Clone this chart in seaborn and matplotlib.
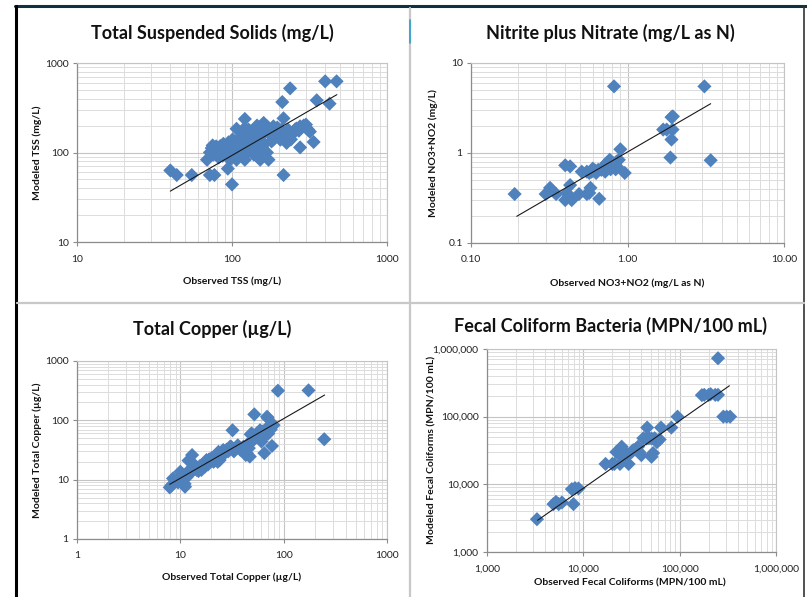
import matplotlib
matplotlib.use("Agg")
import matplotlib.pyplot as plt
import seaborn as sns
from matplotlib.ticker import FixedLocator, LogLocator, NullFormatter
from matplotlib.lines import Line2D

# --- Total Suspended Solids (mg/L) ---
tss_obs = [40, 44, 55, 72, 77, 100, 94, 215, 69, 107, 121, 121, 142, 160, 168, 185, 211, 215,
           237, 275, 301, 318, 336, 352, 275, 399, 473, 426, 225, 205, 180, 152, 172, 168, 145,
           128, 121, 107, 97, 113, 101, 137, 152, 145, 160, 93, 86, 79, 74, 72, 81, 101, 110,
           125, 116, 131, 249, 208, 194, 75, 78, 83, 88, 90, 95, 104, 112, 118, 123, 130, 135,
           140, 148, 155, 162, 175, 190, 200, 230, 260, 290, 310, 99, 106, 115, 138, 170, 82,
           87, 120, 128, 145, 185, 240, 255, 76, 84, 92, 98, 109, 117, 126, 133, 150, 158, 178,
           196, 220, 270, 300]
tss_mod = [63, 56, 56, 56, 56, 44, 66, 56, 83, 184, 237, 188, 188, 214, 196, 196, 366, 241,
           521, 196, 189, 171, 131, 383, 114, 624, 624, 351, 128, 139, 133, 83, 83, 100, 91,
           107, 83, 83, 83, 117, 140, 152, 139, 117, 165, 117, 103, 117, 112, 100, 95, 103, 140,
           140, 100, 117, 165, 180, 165, 120, 105, 110, 125, 100, 130, 120, 128, 110, 160, 125,
           105, 170, 150, 180, 125, 160, 150, 175, 180, 185, 200, 180, 95, 110, 150, 95, 190,
           88, 92, 95, 180, 200, 140, 140, 180, 95, 118, 108, 125, 130, 135, 118, 145, 160, 110,
           175, 190, 165, 175, 205]
tss_trend_x = [40, 475]
tss_trend_y = [37, 443]

# --- Nitrite plus Nitrate (mg/L as N) ---
no3_obs = [0.19, 0.30, 0.32, 0.35, 0.40, 0.43, 0.40, 0.42, 0.43, 0.44, 0.41, 0.49, 0.55, 0.58,
           0.66, 0.51, 0.59, 0.68, 0.75, 0.81, 0.88, 0.72, 0.77, 0.83, 0.65, 0.72, 0.90, 0.82,
           0.96, 1.78, 1.91, 1.94, 1.91, 1.88, 1.69, 3.1, 3.4, 0.55, 0.62, 0.70, 0.79, 0.85,
           0.86, 0.78, 0.74, 0.63, 0.57, 0.60, 0.84, 0.57, 1.95]
no3_mod = [0.35, 0.35, 0.41, 0.35, 0.73, 0.71, 0.30, 0.33, 0.44, 0.30, 0.36, 0.35, 0.35, 0.41,
           0.31, 0.62, 0.62, 0.65, 0.71, 0.77, 0.84, 0.74, 0.84, 0.74, 0.65, 0.62, 1.1, 5.5,
           0.60, 1.82, 2.5, 1.82, 1.41, 0.89, 1.82, 5.5, 0.83, 0.62, 0.64, 0.68, 0.72, 0.80,
           0.70, 0.66, 0.78, 0.60, 0.60, 0.67, 0.66, 0.36, 2.55]
no3_trend_x = [0.196, 3.4]
no3_trend_y = [0.198, 3.53]

# --- Total Copper (ug/L) ---
cu_obs = [7.9, 8.5, 10, 10.7, 11.1, 11.5, 12, 13, 12.8, 14.4, 16, 17.3, 17.9, 20, 22.4, 24,
          23.4, 26, 30.3, 32, 35, 40.8, 44, 45.6, 47, 49, 52, 55, 61, 65, 69, 74, 71, 77, 80,
          88, 174, 247, 59, 9.5, 10.5, 11, 12.5, 13.5, 15, 15.5, 18.5, 19, 21, 23, 25, 27, 28,
          29, 33, 36, 38, 42, 46, 48, 50, 57, 63, 66, 70, 72, 75, 8.2, 12, 13, 31, 43]
cu_mod = [7.4, 10.5, 13.6, 10, 7.6, 11, 21, 26, 20, 14.6, 14.6, 16.6, 21.4, 23, 24.5, 21.4,
          29.4, 31.6, 36, 68, 34, 36, 27.8, 40.8, 24.5, 60, 126, 60, 44, 28, 115, 73, 60, 37, 83,
          316, 320, 48, 68, 9, 12, 8.5, 15, 16, 14, 17, 18, 22, 20, 20, 26, 28, 32,
          30, 30, 38, 32, 30, 34, 58, 45, 62, 65, 55, 110, 80, 70, 8, 12, 14, 36, 26]
cu_trend_x = [7.9, 249]
cu_trend_y = [8.35, 267]

# --- Fecal Coliform Bacteria (MPN/100 mL) ---
fc_obs = [3300, 4900, 5550, 6000, 7900, 7600, 8900, 17000, 21000, 23000, 25000, 28000, 29500,
          32000, 37000, 40000, 45500, 46000, 51000, 51000, 53000, 60000, 64000, 82000, 95000,
          170000, 200000, 234000, 210000, 250000, 250000, 284000, 308000, 334000, 5200, 8200,
          22000, 24000, 26000, 30000, 35000, 38000, 42000, 48000, 55000, 58000, 62000, 180000,
          20000, 27000, 33000]
fc_mod = [3050, 5100, 5100, 5400, 5100, 8500, 8700, 20000, 20000, 29000, 36000, 27000, 20000,
          30500, 36000, 27000, 47500, 69000, 47500, 25500, 29000, 45000, 69000, 69000, 100000,
          208000, 210000, 210000, 215000, 210000, 730000, 100000, 100000, 100000, 5500, 8800,
          30000, 20000, 25000, 28000, 33000, 30000, 48000, 48000, 48000, 42000, 46000, 210000,
          20000, 30000, 32000]
fc_trend_x = [3350, 328000]
fc_trend_y = [2940, 286000]

sns.set_theme(style="white")
plt.rcParams["font.family"] = ["Lato", "DejaVu Sans"]

W, H = 807, 597
fig = plt.figure(figsize=(W / 100, H / 100), dpi=100)
fig.patch.set_facecolor("white")

BLUE = "#4F81BD"
AXIS_GRAY = "#8c8c8c"


def px_axes(left, top, right, bottom):
    return fig.add_axes([left / W, 1 - bottom / H, (right - left) / W, (bottom - top) / H])


def px_text(x, y, s, **kw):
    fig.text(x / W, 1 - y / H, s, ha="center", va="center", color="#111111", **kw)


def draw_panel(ax, obs, mod, trend_x, trend_y, decades_x, decades_y, xlabels, ylabels):
    ax.set_xscale("log")
    ax.set_yscale("log")
    ax.set_xlim(decades_x[0], decades_x[-1])
    ax.set_ylim(decades_y[0], decades_y[-1])

    ax.xaxis.set_major_locator(FixedLocator(decades_x))
    ax.yaxis.set_major_locator(FixedLocator(decades_y))
    ax.set_xticklabels(xlabels)
    ax.set_yticklabels(ylabels)
    ax.xaxis.set_minor_locator(LogLocator(base=10, subs=range(2, 10), numticks=20))
    ax.yaxis.set_minor_locator(LogLocator(base=10, subs=range(2, 10), numticks=20))
    ax.xaxis.set_minor_formatter(NullFormatter())
    ax.yaxis.set_minor_formatter(NullFormatter())

    ax.grid(True, which="major", color="#c4c4c4", lw=0.8)
    ax.grid(True, which="minor", color="#dcdcdc", lw=0.7)
    ax.set_axisbelow(True)

    ax.tick_params(which="major", direction="out", length=3, width=0.8, color=AXIS_GRAY,
                   labelsize=7.5, labelcolor="#222222", left=True, bottom=True)
    ax.tick_params(axis="x", which="major", pad=6)
    ax.tick_params(axis="y", which="major", pad=3)
    ax.tick_params(which="minor", length=0)

    for side in ["top", "right"]:
        ax.spines[side].set_color("#c4c4c4")
        ax.spines[side].set_linewidth(0.8)
    for side in ["left", "bottom"]:
        ax.spines[side].set_color(AXIS_GRAY)
        ax.spines[side].set_linewidth(0.9)

    sns.scatterplot(x=obs, y=mod, ax=ax, marker="D", s=52, color=BLUE,
                    edgecolor="none", linewidth=0, zorder=3)
    sns.lineplot(x=trend_x, y=trend_y, ax=ax, color="#1a1a1a", lw=0.8, zorder=4)
    ax.set_xlabel("")
    ax.set_ylabel("")


# Top-left: TSS
ax1 = px_axes(77, 63, 387, 242)
draw_panel(ax1, tss_obs, tss_mod, tss_trend_x, tss_trend_y,
           [10, 100, 1000], [10, 100, 1000],
           ["10", "100", "1000"], ["10", "100", "1000"])
px_text(212, 33, "Total Suspended Solids (mg/L)", fontsize=13, fontweight="bold")
px_text(232, 281, "Observed TSS (mg/L)", fontsize=7.5, fontweight="bold")
px_text(37, 153, "Modeled TSS (mg/L)", fontsize=7.5, fontweight="bold", rotation=90)

# Top-right: NO3+NO2
ax2 = px_axes(471, 63, 784, 243)
draw_panel(ax2, no3_obs, no3_mod, no3_trend_x, no3_trend_y,
           [0.1, 1, 10], [0.1, 1, 10],
           ["0.10", "1.00", "10.00"], ["0.1", "1", "10"])
px_text(610, 33, "Nitrite plus Nitrate (mg/L as N)", fontsize=13, fontweight="bold")
px_text(627, 283, "Observed NO3+NO2 (mg/L as N)", fontsize=7.5, fontweight="bold")
px_text(433, 153, "Modeled NO3+NO2 (mg/L)", fontsize=7.5, fontweight="bold", rotation=90)

# Bottom-left: Copper
ax3 = px_axes(77, 361, 387, 539)
draw_panel(ax3, cu_obs, cu_mod, cu_trend_x, cu_trend_y,
           [1, 10, 100, 1000], [1, 10, 100, 1000],
           ["1", "10", "100", "1000"], ["1", "10", "100", "1000"])
px_text(212, 329, "Total Copper (\u00b5g/L)", fontsize=13, fontweight="bold")
px_text(232, 577, "Observed Total Copper (\u00b5g/L)", fontsize=7.5, fontweight="bold")
px_text(37, 450, "Modeled Total Copper (\u00b5g/L)", fontsize=7.5, fontweight="bold", rotation=90)

# Bottom-right: Fecal coliforms
ax4 = px_axes(487, 349, 776, 552)
draw_panel(ax4, fc_obs, fc_mod, fc_trend_x, fc_trend_y,
           [1e3, 1e4, 1e5, 1e6], [1e3, 1e4, 1e5, 1e6],
           ["1,000", "10,000", "100,000", "1,000,000"],
           ["1,000", "10,000", "100,000", "1,000,000"])
px_text(610, 326, "Fecal Coliform Bacteria (MPN/100 mL)", fontsize=13, fontweight="bold")
px_text(630, 583, "Observed Fecal Coliforms (MPN/100 mL)", fontsize=7.5, fontweight="bold")
px_text(432, 450, "Modeled Fecal Coliforms (MPN/100 mL)", fontsize=7.5, fontweight="bold", rotation=90)

# slide frame: borders and panel dividers
def fig_line(x0, y0, x1, y1, color, lw):
    fig.add_artist(Line2D([x0 / W, x1 / W], [1 - y0 / H, 1 - y1 / H],
                          transform=fig.transFigure, color=color, lw=lw))

fig_line(15, 6, 807, 6, "#13303d", 2.2)
fig_line(16, 6, 16, 597, "#000000", 2.2)
fig_line(804, 6, 804, 597, "#333333", 1.2)
fig_line(410, 8, 410, 597, "#c8c8c8", 1.6)
fig_line(17, 303, 804, 303, "#c8c8c8", 1.6)
fig_line(410, 20, 410, 43, "#2aa0c8", 1.2)

fig.savefig("out.png", dpi=100)
